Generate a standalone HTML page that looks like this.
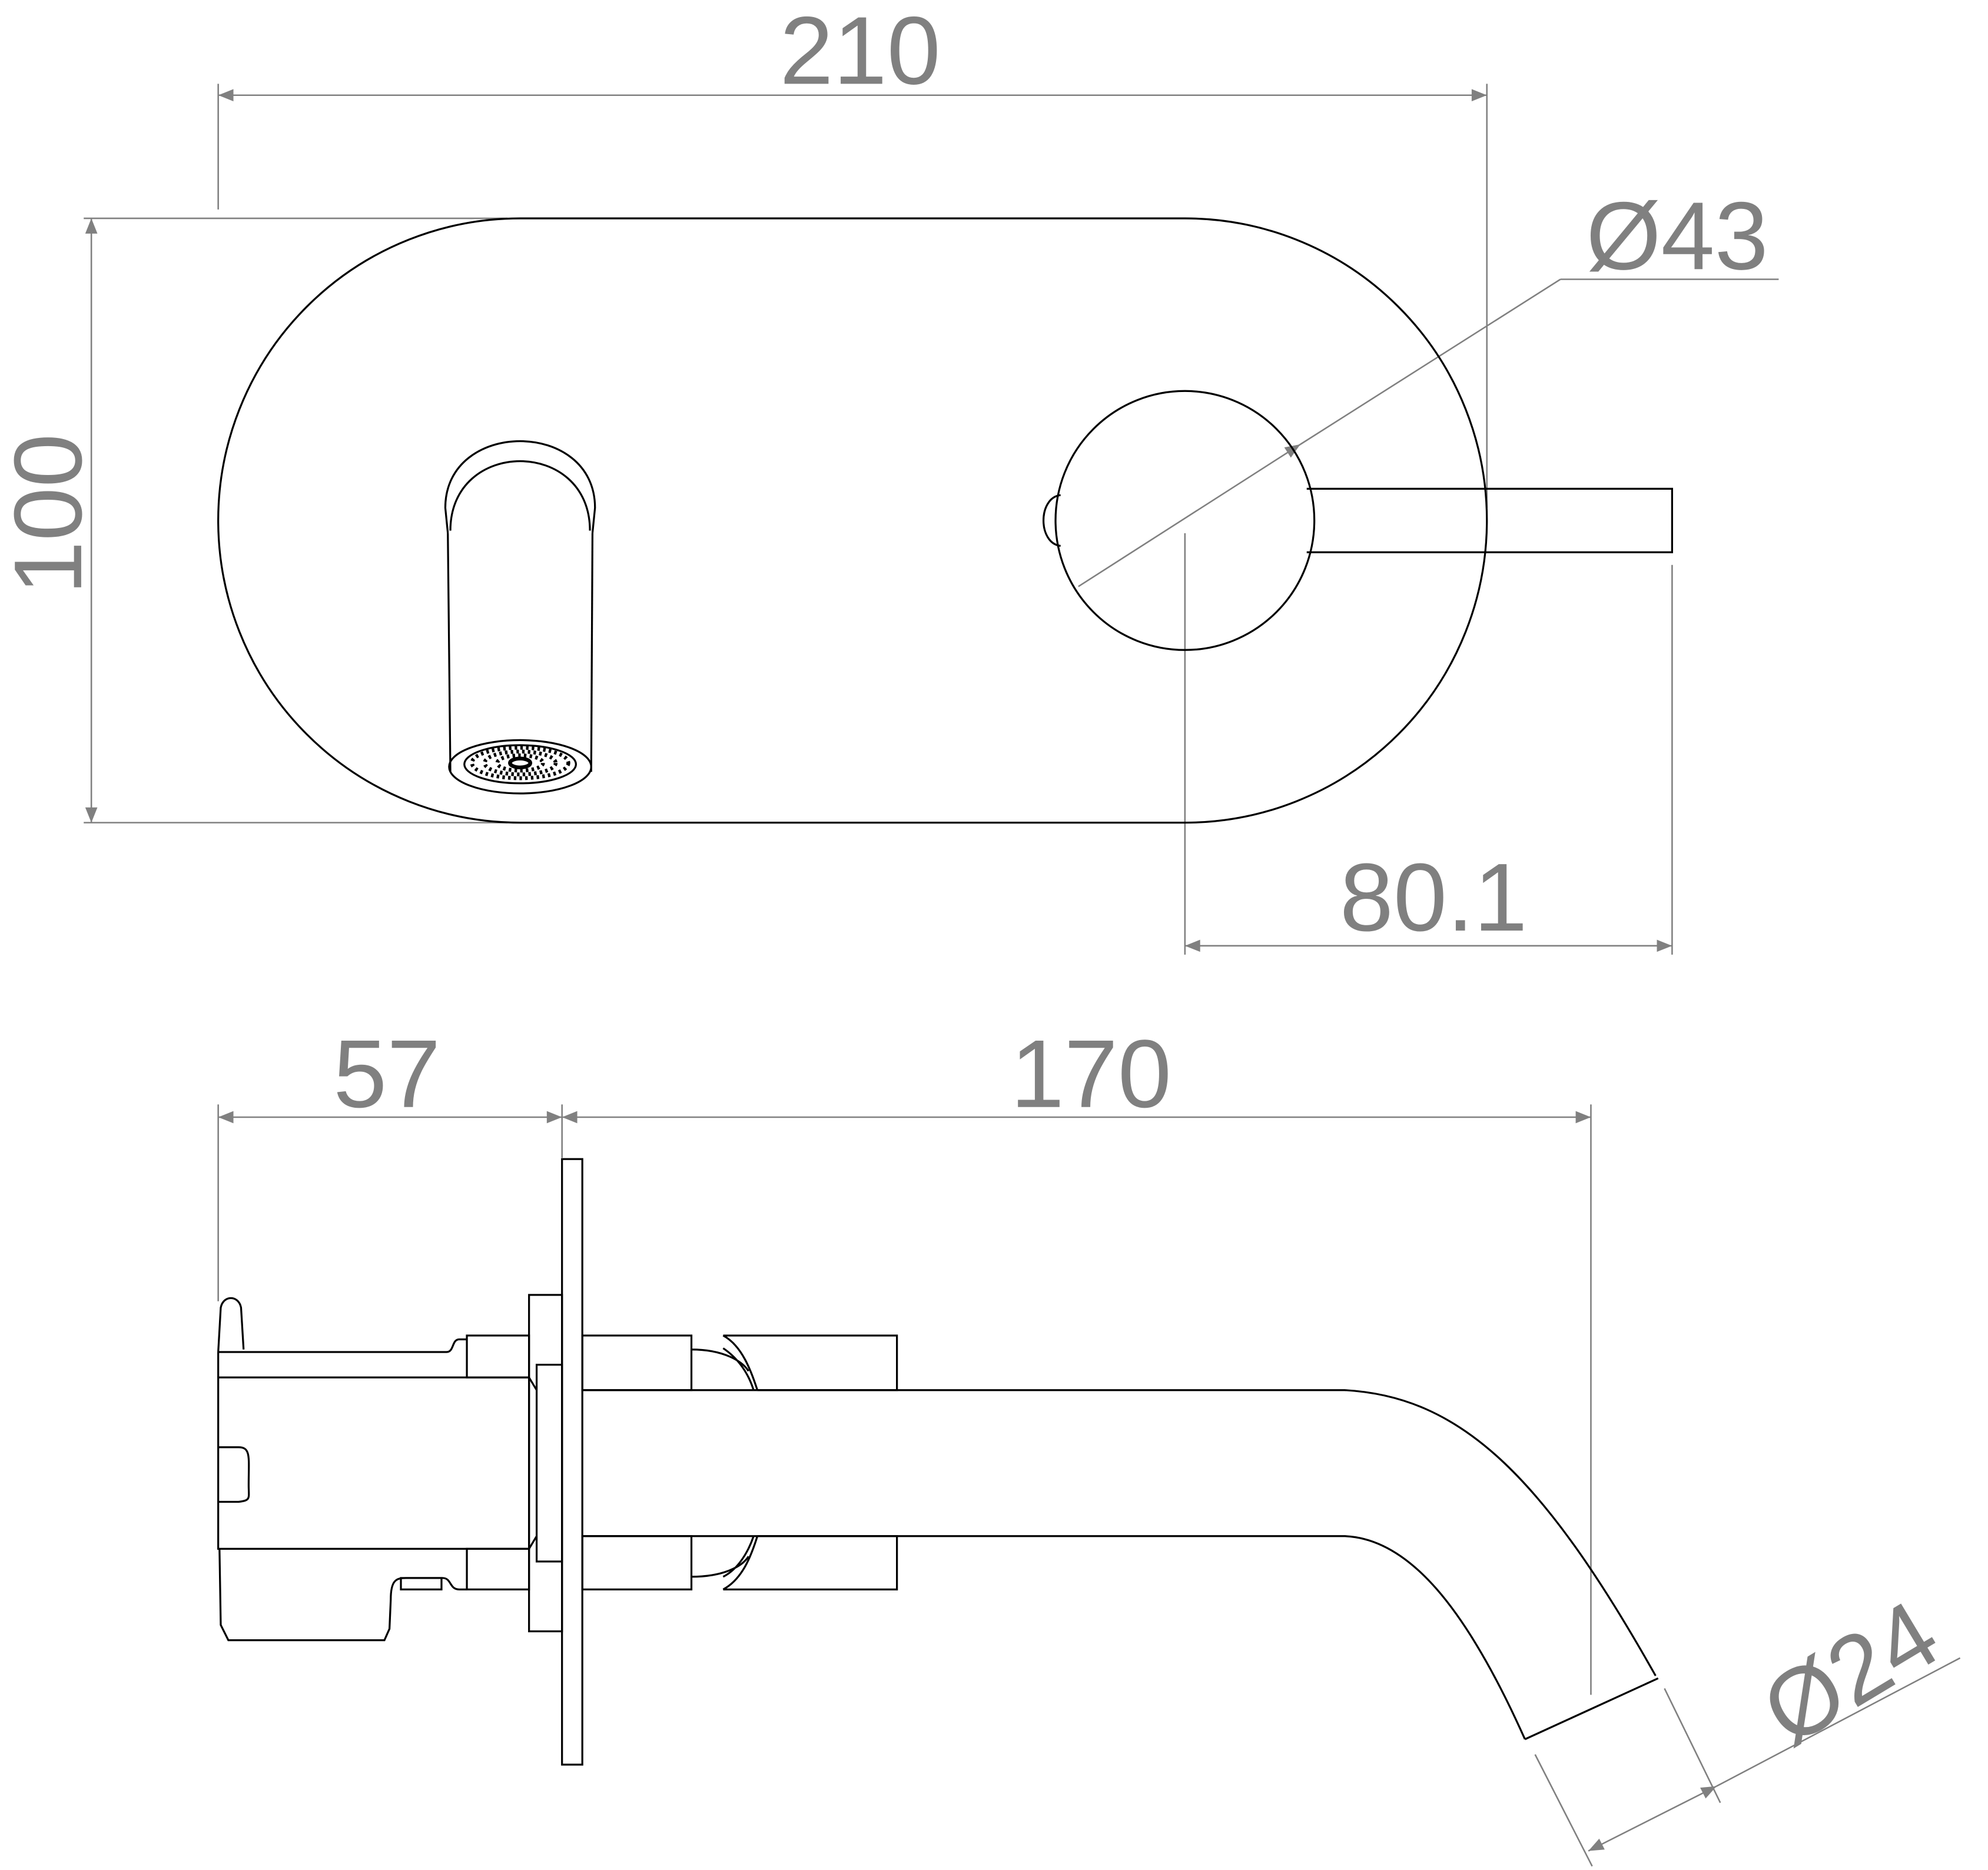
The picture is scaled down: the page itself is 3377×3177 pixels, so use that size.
<!DOCTYPE html>
<html><head><meta charset="utf-8"><style>html,body{margin:0;padding:0;background:#fff}svg{display:block}</style></head>
<body>
<svg width="3377" height="3177" viewBox="0 0 1567 1473" preserveAspectRatio="none" xmlns="http://www.w3.org/2000/svg">
<defs>
<marker id="a" viewBox="0 0 10 10" refX="10" refY="5" markerWidth="32" markerHeight="12" markerUnits="userSpaceOnUse" orient="auto-start-reverse"><path d="M0,1 L10,5 L0,9 Z" fill="#808080"/></marker>
</defs>
<g stroke="#808080" stroke-width="1.2" fill="none">
<line x1="172" y1="75" x2="1172" y2="75" marker-start="url(#a)" marker-end="url(#a)"/>
<line x1="172" y1="66" x2="172" y2="165"/>
<line x1="1172" y1="66" x2="1172" y2="400"/>
<line x1="72" y1="172" x2="72" y2="648" marker-start="url(#a)" marker-end="url(#a)"/>
<line x1="66" y1="172" x2="400" y2="172"/>
<line x1="66" y1="648" x2="400" y2="648"/>
<line x1="850" y1="462" x2="1025" y2="350" marker-end="url(#a)"/>
<line x1="1025" y1="350" x2="1230" y2="220"/>
<line x1="1230" y1="220" x2="1402" y2="220"/>
<line x1="934" y1="745" x2="1318" y2="745" marker-start="url(#a)" marker-end="url(#a)"/>
<line x1="934" y1="420" x2="934" y2="752"/>
<line x1="1318" y1="445" x2="1318" y2="752"/>
<line x1="172" y1="880" x2="443" y2="880" marker-start="url(#a)" marker-end="url(#a)"/>
<line x1="443" y1="880" x2="1254" y2="880" marker-start="url(#a)" marker-end="url(#a)"/>
<line x1="172" y1="870" x2="172" y2="1025"/>
<line x1="443" y1="870" x2="443" y2="912"/>
<line x1="1254" y1="870" x2="1254" y2="1335"/>
<line x1="1210" y1="1382" x2="1255" y2="1470"/>
<line x1="1312" y1="1330" x2="1356" y2="1420"/>
<line x1="1252" y1="1458" x2="1353" y2="1407" marker-start="url(#a)" marker-end="url(#a)"/>
<line x1="1353" y1="1407" x2="1545" y2="1306"/>
</g>
<g fill="#808080" font-family="Liberation Sans, sans-serif" font-size="76" text-anchor="middle">
<text x="678" y="66">210</text>
<text x="1322" y="212">Ø43</text>
<text x="1130" y="733">80.1</text>
<text x="305" y="872">57</text>
<text x="860" y="872">170</text>
<text transform="translate(64,405) rotate(-90)">100</text>
<text transform="translate(1472,1340) rotate(-31)">Ø24</text>
</g>
<g stroke="#000" stroke-width="1.5" fill="none">
<rect x="172" y="172" width="1000" height="476" rx="238" ry="238"/>
<path d="M353,420 L351,400 C351,330 469,330 469,400 L467,420"/>
<path d="M355,418 C355,345 465,345 465,418"/>
<line x1="353" y1="420" x2="355" y2="608"/>
<line x1="467" y1="420" x2="466" y2="608"/>
<ellipse cx="410" cy="604" rx="56" ry="21"/>
<ellipse cx="410" cy="602" rx="44" ry="15"/>
<g stroke-width="3" stroke-dasharray="2 2.5">
<ellipse cx="410" cy="601" rx="38" ry="12"/>
<ellipse cx="410" cy="601" rx="28" ry="9"/>
<ellipse cx="410" cy="601" rx="18" ry="6"/>
</g>
<ellipse cx="410" cy="601" rx="8" ry="3.5" stroke-width="3"/>
<circle cx="934" cy="410" r="102"/>
<path d="M836,390 C818,392 818,428 836,430"/>
<path d="M1030,385 L1318,385 L1318,435 L1030,435"/>
<path d="M192,1063 L190,1030 C188,1020 176,1020 174,1030 L172,1065"/>
<path d="M172,1065 L352,1065 C358,1065 356,1055 362,1055 L368,1055"/>
<rect x="172" y="1085" width="245" height="135"/>
<path d="M172,1140 L188,1140 C198,1140 196,1148 196,1170 C196,1180 198,1182 188,1183 L172,1183"/>
<path d="M172,1065 L172,1085"/>
<path d="M173,1220 L174,1280 L180,1292 L303,1292 L307,1283 L308,1260 C308,1245 312,1243 320,1243 L349,1243 C356,1243 354,1252 362,1252 L368,1252"/>
<rect x="316" y="1243" width="32" height="9"/>
<rect x="368" y="1052" width="49" height="33"/>
<rect x="368" y="1220" width="49" height="32"/>
<rect x="417" y="1020" width="26" height="265"/>
<rect x="423" y="1075" width="20" height="155"/>
<line x1="417" y1="1085" x2="423" y2="1095"/>
<line x1="417" y1="1220" x2="423" y2="1210"/>
<rect x="443" y="913" width="16" height="477"/>
<rect x="459" y="1052" width="86" height="43"/>
<rect x="459" y="1210" width="86" height="42"/>
<path d="M570,1052 L707,1052 L707,1095 L597,1095 M570,1052 C585,1060 592,1080 597,1095 M570,1062 C582,1070 590,1082 594,1095 M545,1063 C570,1063 585,1072 590,1080"/>
<path d="M570,1252 L707,1252 L707,1210 L597,1210 M570,1252 C585,1244 592,1226 597,1210 M570,1242 C582,1236 590,1222 594,1210 M545,1242 C570,1242 585,1234 590,1226"/>
<path d="M459,1095 L1060,1095 C1150,1100 1215,1160 1305,1320"/>
<path d="M459,1210 L1060,1210 C1110,1212 1155,1265 1202,1370"/>
<line x1="1202" y1="1370" x2="1307" y2="1322"/>
</g>
</svg>
</body></html>
